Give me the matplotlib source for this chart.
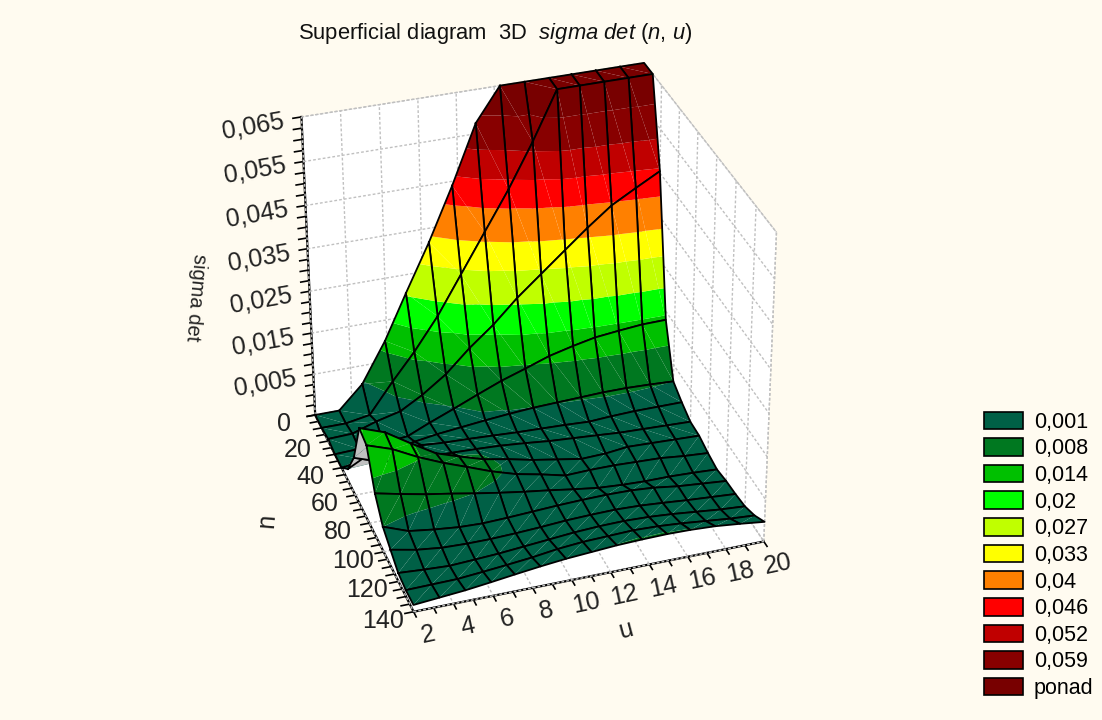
import numpy as np
import matplotlib
matplotlib.use('Agg')
import matplotlib.pyplot as plt
from matplotlib.patches import Patch
from matplotlib.ticker import MultipleLocator
from mpl_toolkits.mplot3d import proj3d
from mpl_toolkits.mplot3d.art3d import Poly3DCollection

# siatka
n_vals = [2, 3.3, 4.6, 5.9, 7.1, 8.4, 9.7, 11, 12.3, 13.6, 14.9, 16.1, 17.4, 18.7, 20]
u_vals = [0, 10, 20, 30, 40, 50, 60, 70, 80, 90, 100, 110, 120, 130, 140]

r00 = [-.005, -.005, .0005, .010, .0206, .0317, .044, .0574, .065, .065, .065, .065, .065, .065, .065]
r01 = [-.005, -.005, -.004, .0032, .0094, .017, .026, .035, .044, .054, .065, .065, .065, .065, .065]
r02 = [-.0045, -.0043, -.0024, -.001, .002, .006, .0113, .0159, .0213, .026, .0307, .035, .0393, .0424, .0454]
r03 = [-.005, -.0048, -.0045, -.0039, -.0016, .0007, .0031, .0054, .0073, .0093, .0107, .0118, .0124, .0129, .0130]
r04 = [-.005, -.0042, -.003, -.002, -.0012, -.0006, 0, .0005, .0009, .0011, .0013, .0015, .0015, .0013, .001]
r05 = [-.002, .001, .0007, .0004, 0, -.0002, -.0005, -.0008, -.001, -.0012, -.0015, -.0012, -.001, -.001, -.001]
r06 = [.004, .002, .001, .0008, .0008, .0006, .0003, -.0002, -.0008, -.0012, -.0016, -.002, -.0022, -.0024, -.0026]
r07 = [.0143, .0122, .0085, .005, .0032, .0014, .0003, -.001, -.002, -.003, -.0028, -.0022, -.0024, -.0026, -.0028]
r08 = [.0135, .0115, .0085, .006, .004, .0018, 0, -.0012, -.0026, -.0024, -.0024, -.0026, -.0028, -.0034, -.0038]
r09 = [.0055, .0042, .003, .002, .001, 0, -.0009, -.0017, -.0026, -.0034, -.0038, -.004, -.004, -.0042, -.0045]
r10 = [.001, -.0012, -.002, -.0026, -.0028, -.0026, -.0023, -.002, -.0018, -.0017, -.0018, -.0022, -.003, -.0035, -.004]
r11 = [-.001, -.0022, -.0029, -.0031, -.0031, -.0029, -.0026, -.0022, -.002, -.0019, -.0021, -.0025, -.003, -.0034, -.0038]
r12 = [-.003, -.0034, -.0037, -.0034, -.0031, -.0026, -.0021, -.0016, -.0013, -.0012, -.0014, -.0018, -.0024, -.003, -.0034]
r13 = [-.0035, -.0034, -.0033, -.0028, -.0023, -.0017, -.0009, -.0004, -.0002, 0, -.0002, -.0006, -.0012, -.0018, -.0022]
r14 = [-.0034, -.0029, -.0024, -.0017, -.001, -.0003, .0003, .0007, .0011, .0013, .0014, .0013, .0010, .0004, -.0003]
sigma = np.array([r00, r01, r02, r03, r04, r05, r06, r07, r08, r09, r10, r11, r12, r13, r14])

# legenda
levels = [.001, .008, .014, .02, .027, .033, .04, .046, .052, .059]
level_labels = ['0,001', '0,008', '0,014', '0,02', '0,027', '0,033', '0,04', '0,046', '0,052', '0,059', 'ponad']
colors = ['#006046', '#007820', '#00c000', '#00ff00', '#c0ff00', '#ffff00', '#ff8000', '#ff0000', '#c00000', '#880000', '#780000']

n_ticks = [2, 4, 6, 8, 10, 12, 14, 16, 18, 20]
u_ticks = [0, 20, 40, 60, 80, 100, 120, 140]
z_ticks = [.005, .015, .025, .035, .045, .055, .065]

W, H = 1102, 720
BG = '#fffbf0'
plt.rcParams['font.family'] = ['Liberation Sans', 'DejaVu Sans']
plt.rcParams['mathtext.fontset'] = 'custom'
plt.rcParams['mathtext.it'] = 'Liberation Sans:italic'
plt.rcParams['mathtext.rm'] = 'Liberation Sans'

fig = plt.figure(figsize=(W / 100, H / 100), dpi=100, facecolor=BG)
s, cx, cy = 609.4, 524.1, 337.2
ax = fig.add_axes([(cx - s / 2) / W, (H - cy - s / 2) / H, s / W, s / H], projection='3d', computed_zorder=False)
ax.set_facecolor(BG)
ax.view_init(elev=32, azim=-108.2, roll=.25)
ax.set_proj_type('persp', focal_length=1.003)
ax.set_box_aspect((1.275, 1.275, 1.25))
ax.set_xlim(2, 20, view_margin=0)
ax.set_ylim(140, 0, view_margin=0)
ax.set_zlim(-.005, .065, view_margin=0)
M = ax.get_proj()

edges = [-np.inf] + levels + [np.inf]


def clip(poly, z0, above):
    out = []
    for a, b in zip(poly, poly[1:] + poly[:1]):
        ia = (a[2] >= z0) == above
        ib = (b[2] >= z0) == above
        if ia:
            out.append(a)
        if ia != ib:
            t = (z0 - a[2]) / (b[2] - a[2])
            out.append(tuple(a[m] + t * (b[m] - a[m]) for m in range(3)))
    return out


def screen_area(tri):
    xs, ys, _ = proj3d.proj_transform(*np.array(tri).T, M)
    return (xs[1] - xs[0]) * (ys[2] - ys[0]) - (xs[2] - xs[0]) * (ys[1] - ys[0])


def pt(a, b):
    return (n_vals[b], u_vals[a], sigma[a, b])


# komorki od tylu do przodu
order = 0
for r in range(len(u_vals) - 1):
    for i in range(len(n_vals) - 2, -1, -1):
        p00, p01, p10, p11 = pt(r, i), pt(r, i + 1), pt(r + 1, i), pt(r + 1, i + 1)
        if r < 7:
            tris = [[p00, p01, p11], [p00, p11, p10]]
        else:
            tris = [[p00, p01, p10], [p01, p11, p10]]
        polys, fcs = [], []
        for tri in tris:
            flat = [(q[0], q[1], -.005) for q in tri]
            if screen_area(tri) * screen_area(flat) < 0:
                polys.append(tri)
                fcs.append('#c0c0c0')
                continue
            for b in range(len(colors)):
                part = list(tri)
                if np.isfinite(edges[b]):
                    part = clip(part, edges[b], True)
                if part and np.isfinite(edges[b + 1]):
                    part = clip(part, edges[b + 1], False)
                if len(part) >= 3:
                    polys.append(part)
                    fcs.append(colors[b])
        ax.add_collection3d(Poly3DCollection(polys, facecolors=fcs, edgecolors='none', zorder=10 + order))
        box = [p00, p01, p11, p10, p00]
        ax.plot(*np.array(box).T, color='black', lw=1.3, zorder=10.5 + order)
        order += 1

ax.set_xlim(2, 20, view_margin=0)
ax.set_ylim(140, 0, view_margin=0)
ax.set_zlim(-.005, .065, view_margin=0)

# siatka na scianach
ax.grid(False)
dash = (0, (2, 1.5))
grid = dict(color='#c0c0c0', lw=1, ls=dash, zorder=1)
for v in n_ticks:
    ax.plot([v, v], [0, 0], [-.005, .065], **grid)
    ax.plot([v, v], [0, 140], [-.005, -.005], **grid)
for v in u_ticks:
    ax.plot([20, 20], [v, v], [-.005, .065], **grid)
    ax.plot([2, 20], [v, v], [-.005, -.005], **grid)
for v in z_ticks:
    ax.plot([2, 20], [0, 0], [v, v], **grid)
    ax.plot([20, 20], [0, 140], [v, v], **grid)

for axis in (ax.xaxis, ax.yaxis, ax.zaxis):
    axis.set_pane_color('white')
    axis.pane.set_edgecolor('#c0c0c0')
    axis.pane.set_linestyle(dash)
    axis.line.set_color('black')
    axis.line.set_linewidth(1.6)
    axis._axinfo['tick'].update(inward_factor=.3, outward_factor=0, color='black')
    axis._axinfo['tick']['linewidth'] = {True: 1.2, False: 1.2}

ax.set_xticks(n_ticks)
ax.set_yticks(u_ticks)
ax.set_zticks(z_ticks)
ax.set_xticklabels([])
ax.set_yticklabels([])
ax.set_zticklabels([])
ax.xaxis.set_minor_locator(MultipleLocator(1))
ax.yaxis.set_minor_locator(MultipleLocator(5))
ax.zaxis.set_minor_locator(MultipleLocator(.0025))


def label(x, y, z, text, dx, dy, rot, size=18):
    vx, vy, _ = proj3d.proj_transform(x, y, z, M)
    ax.annotate(text, xy=(vx, vy), xytext=(dx, -dy), textcoords='offset pixels', ha='center', va='center',
                rotation=rot, fontsize=size, color='#222222', annotation_clip=False, zorder=1000)


for v in n_ticks:
    label(v, 140, -.005, str(v), 14, 23, 12)
for v in u_ticks:
    label(2, v, -.005, str(v), -31, 9, 0)
for v in z_ticks:
    label(2, 0, v, f'{v:.3f}'.replace('.', ','), -48, 9, 10)
label(11, 140, -.005, 'n', 32, 52, 195)
label(2, 70, -.005, 'u', -98, 14, -95)
label(2, 0, .03, 'sigma det', -113, 27, -95, size=14.5)

fig.text(495 / W, 1 - 34 / H, r'Superficial diagram  3D  $\mathit{sigma\ det}$ ($\mathit{n}$, $\mathit{u}$)',
         fontsize=15.8, ha='center', va='center', color='#111111')

handles = [Patch(facecolor=c_, edgecolor='black', lw=1.2) for c_ in colors]
fig.legend(handles, level_labels, loc='lower left', bbox_to_anchor=(984 / W, 1 - 699 / H), frameon=False,
           fontsize=15.5, handlelength=1.81, handleheight=.88, labelspacing=.25, handletextpad=.5,
           borderpad=0, borderaxespad=0)

fig.savefig('out.png', dpi=100, facecolor=fig.get_facecolor())
